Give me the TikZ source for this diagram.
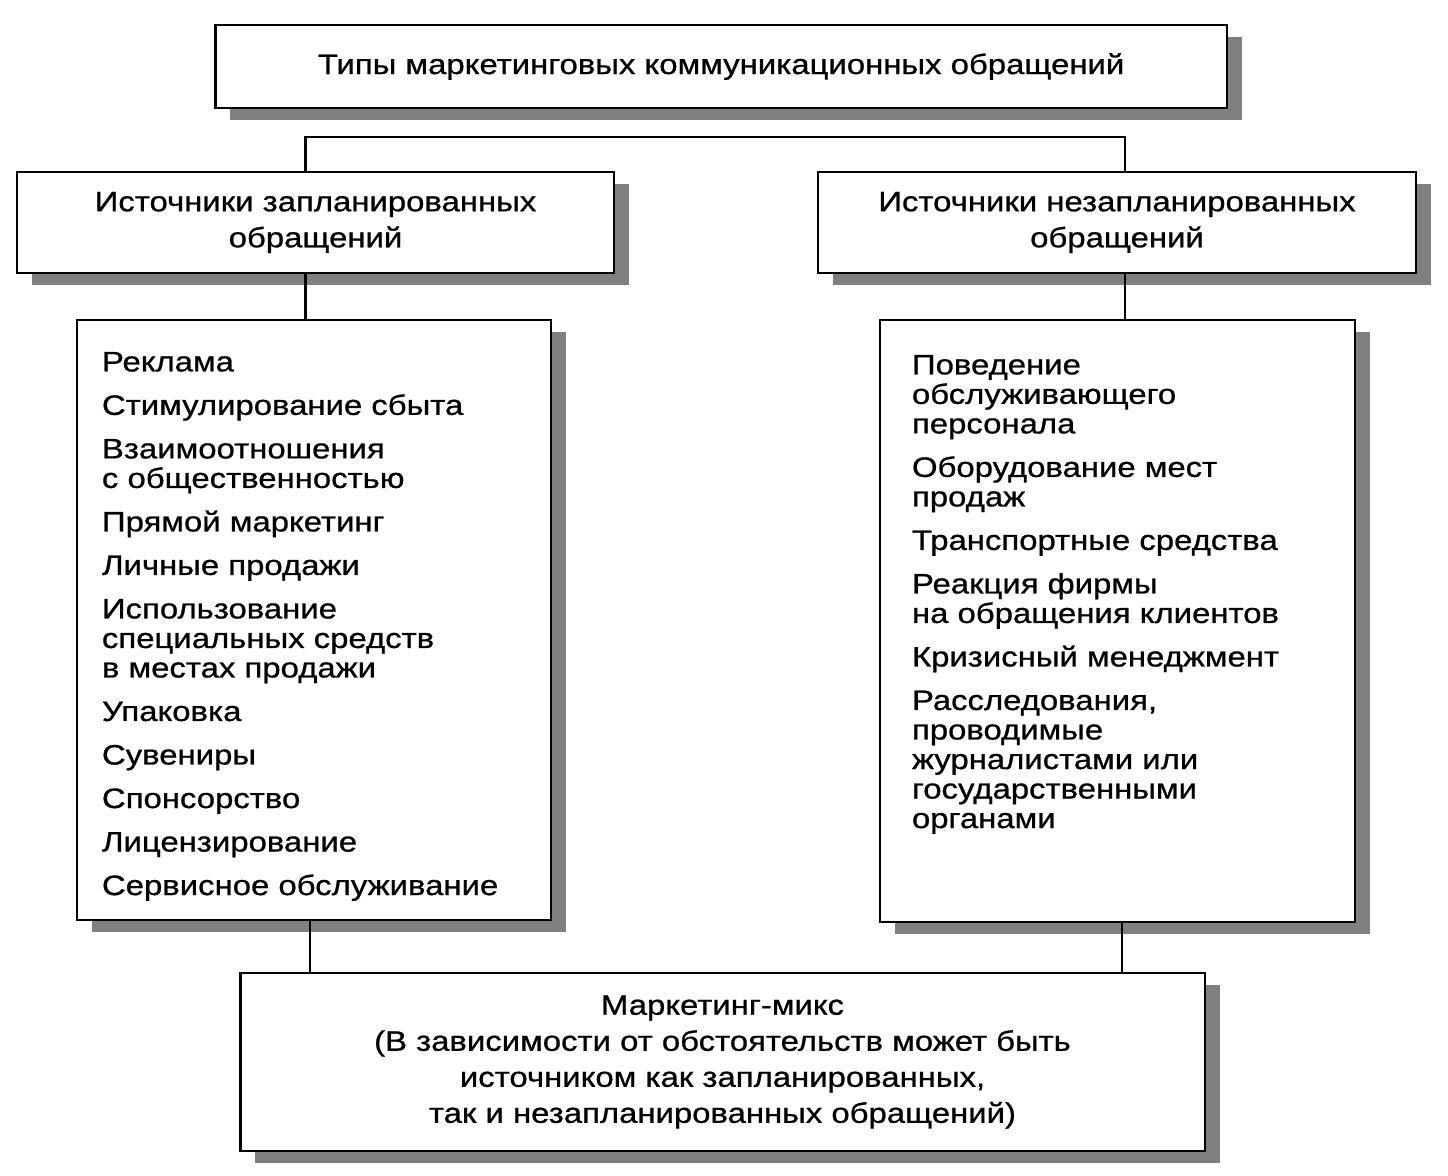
\documentclass[tikz,border=0pt]{standalone}
\usepackage{fontspec}
\setmainfont{Liberation Sans}[FakeStretch=1.17, FakeBold=0.8]
\usetikzlibrary{shadows}

\begin{document}
\begin{tikzpicture}[x=0.02cm, y=-0.02cm,
    box/.style={draw, line width=1.6pt, fill=white, align=center,
        font=\fontsize{16}{20.5}\selectfont,
        general shadow={fill=black!50, shadow xshift=0.3cm, shadow yshift=-0.24cm}},
    listtext/.style={align=left, inner sep=0pt, anchor=north west,
        font=\fontsize{16}{16.8}\selectfont},
    link/.style={line width=1.6pt}]
\useasboundingbox (0,0) rectangle (1448,1176);

% top level
\node[box, minimum width=20.24cm, minimum height=1.66cm] (types) at (721,66.5)
    {Типы маркетинговых коммуникационных обращений};

% sources
\node[box, minimum width=11.94cm, minimum height=2.02cm] (plannedsrc) at (315.5,222.5)
    {Источники запланированных\\обращений};
\node[box, minimum width=11.96cm, minimum height=2.02cm] (unplannedsrc) at (1117,222.5)
    {Источники незапланированных\\обращений};

% lists
\node[box, minimum width=9.48cm, minimum height=12cm] (plannedlist) at (314,620) {};
\node[box, minimum width=9.5cm, minimum height=12.04cm] (unplannedlist) at (1117.5,621) {};
\node[listtext] (plannedtext) at ([shift={(0.52cm,-0.66cm)}]plannedlist.north west)
    {Реклама\\[0.28cm]
     Стимулирование сбыта\\[0.28cm]
     Взаимоотношения\\с общественностью\\[0.28cm]
     Прямой маркетинг\\[0.28cm]
     Личные продажи\\[0.28cm]
     Использование\\специальных средств\\в местах продажи\\[0.28cm]
     Упаковка\\[0.28cm]
     Сувениры\\[0.28cm]
     Спонсорство\\[0.28cm]
     Лицензирование\\[0.28cm]
     Сервисное обслуживание};
\node[listtext] (unplannedtext) at ([shift={(0.66cm,-0.72cm)}]unplannedlist.north west)
    {Поведение\\обслуживающего\\персонала\\[0.28cm]
     Оборудование мест\\продаж\\[0.28cm]
     Транспортные средства\\[0.28cm]
     Реакция фирмы\\на обращения клиентов\\[0.28cm]
     Кризисный менеджмент\\[0.28cm]
     Расследования,\\проводимые\\журналистами или\\государственными\\органами};

% marketing mix
\node[box, minimum width=19.3cm, minimum height=3.56cm] (mix) at (722.5,1062)
    {Маркетинг-микс\\(В зависимости от обстоятельств может быть\\источником как запланированных,\\так и незапланированных обращений)};

% connectors
\coordinate (bar) at (715,137);
\draw[link] ([xshift=-0.2cm]plannedsrc.north) |- (bar) -| ([xshift=0.16cm]unplannedsrc.north);
\draw[link] ([xshift=-0.2cm]plannedsrc.south) -- ([xshift=-0.2cm]plannedsrc.south |- plannedlist.north);
\draw[link] ([xshift=0.16cm]unplannedsrc.south) -- ([xshift=0.16cm]unplannedsrc.south |- unplannedlist.north);
\draw[link] ([xshift=-0.08cm]plannedlist.south) -- ([xshift=-0.08cm]plannedlist.south |- mix.north);
\draw[link] ([xshift=0.09cm]unplannedlist.south) -- ([xshift=0.09cm]unplannedlist.south |- mix.north);
\end{tikzpicture}
\end{document}
